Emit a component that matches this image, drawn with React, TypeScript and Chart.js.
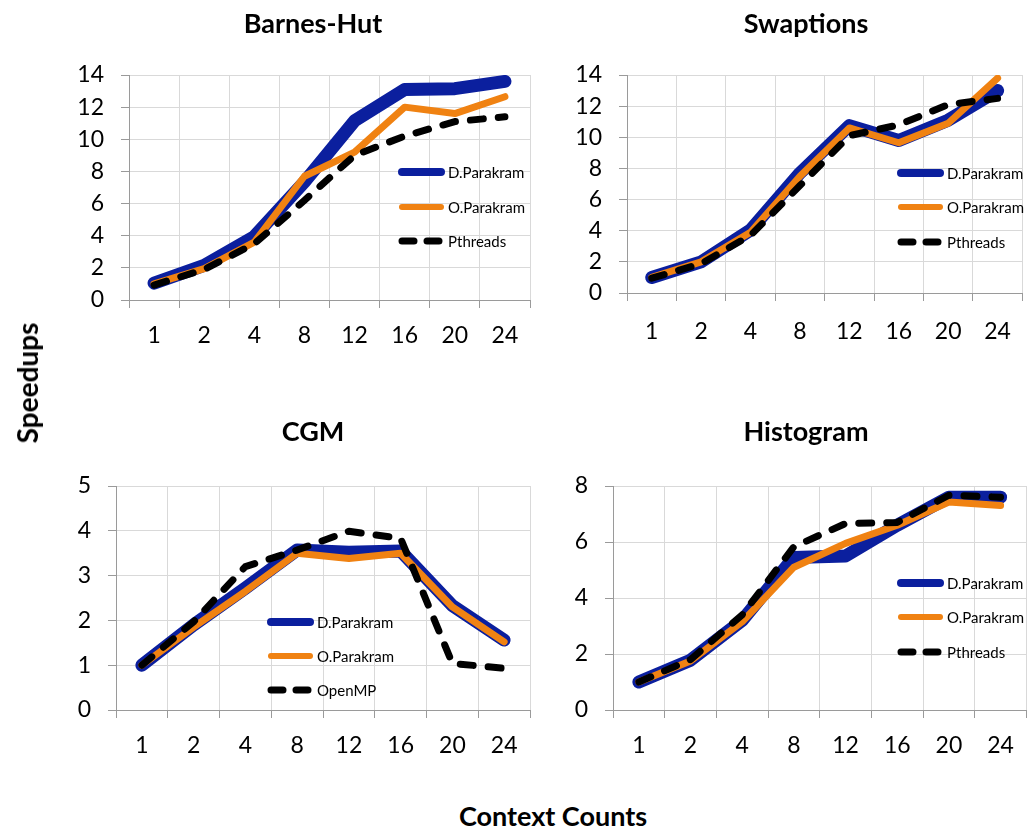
import React, { useEffect, useRef } from "react";
import { Chart, registerables } from "chart.js";

Chart.register(...registerables);

// ---------- data ----------
const categories = ["1", "2", "4", "8", "12", "16", "20", "24"];

const barnesD = [1.05, 2.15, 3.95, 7.35, 11.15, 13.1, 13.15, 13.6];
const barnesO = [1.0, 1.95, 3.6, 7.7, 9.2, 12.0, 11.6, 12.65];
const barnesP = [0.93, 1.9, 3.5, 6.2, 9.0, 10.2, 11.1, 11.4];

const swapD = [1.0, 2.0, 4.05, 7.7, 10.75, 9.8, 11.1, 13.0];
const swapO = [1.0, 2.0, 3.9, 7.5, 10.6, 9.65, 10.9, 13.8];
const swapP = [0.95, 1.88, 3.7, 6.9, 10.1, 10.8, 12.1, 12.5];

const cgmD = [1.0, 1.9, 2.72, 3.57, 3.52, 3.55, 2.33, 1.56];
const cgmO = [1.0, 1.85, 2.65, 3.5, 3.38, 3.5, 2.3, 1.52];
const cgmP = [1.0, 1.97, 3.2, 3.57, 3.99, 3.83, 1.04, 0.93];

const histD = [1.0, 1.78, 3.2, 5.45, 5.5, 6.6, 7.6, 7.6];
const histO = [1.0, 1.75, 3.15, 5.1, 5.95, 6.6, 7.43, 7.3];
const histP = [1.0, 1.8, 3.4, 5.83, 6.66, 6.7, 7.67, 7.6];

const seriesD = "D.Parakram";
const seriesO = "O.Parakram";
const seriesPthreads = "Pthreads";
const seriesOpenMP = "OpenMP";

const titles = ["Barnes-Hut", "Swaptions", "CGM", "Histogram"];
const yAxisTitle = "Speedups";
const xAxisTitle = "Context Counts";

// ---------- styles ----------
const BLUE = "#0b1f9e";
const ORANGE = "#f08212";
const BLACK = "#000000";
const GRID = "#d9d9d9";
const AXIS = "#9a9a9a";
const FONT = "Lato, 'Open Sans', sans-serif";

type PanelProps = {
  left: number;
  top: number;
  width: number;
  height: number;
  yWidth: number;
  xHeight: number;
  padTop: number;
  padRight: number;
  xPad: number;
  yMax: number;
  yStep: number;
  d: number[];
  o: number[];
  p: number[];
  pName: string;
  legendX: number;
  legendYs: number[];
};

function makeLegendPlugin(props: PanelProps) {
  return {
    id: "insideLegend",
    afterDatasetsDraw(chart: any) {
      const ctx = chart.ctx as CanvasRenderingContext2D;
      const x0 = props.legendX - props.left;
      const items = [
        { label: seriesD, color: BLUE, width: 8, dash: [] as number[] },
        { label: seriesO, color: ORANGE, width: 6, dash: [] as number[] },
        { label: props.pName, color: BLACK, width: 7, dash: [12, 13] },
      ];
      ctx.save();
      items.forEach((it, i) => {
        const y = props.legendYs[i] - props.top;
        ctx.beginPath();
        ctx.strokeStyle = it.color;
        ctx.lineWidth = it.width;
        ctx.lineCap = "round";
        ctx.setLineDash(it.dash);
        ctx.moveTo(x0 + 4, y);
        ctx.lineTo(x0 + 43, y);
        ctx.stroke();
        ctx.setLineDash([]);
        ctx.fillStyle = "#000";
        ctx.font = `15px ${FONT}`;
        ctx.textBaseline = "middle";
        ctx.textAlign = "left";
        ctx.fillText(it.label, x0 + 50, y + 1);
      });
      ctx.restore();
    },
  };
}

function Panel(props: PanelProps) {
  const ref = useRef<HTMLCanvasElement | null>(null);
  useEffect(() => {
    if (!ref.current) return;
    const line = (label: string, data: number[], color: string, width: number, dash: number[]) => ({
      label,
      data,
      borderColor: color,
      backgroundColor: color,
      borderWidth: width,
      borderDash: dash,
      borderCapStyle: "round" as const,
      borderJoinStyle: "round" as const,
      pointRadius: 0,
      pointHoverRadius: 0,
      tension: 0,
      fill: false,
    });
    const chart = new Chart(ref.current, {
      type: "line",
      data: {
        labels: categories,
        datasets: [
          line(props.pName, props.p, BLACK, 7, [13, 15]),
          line(seriesO, props.o, ORANGE, 7, []),
          line(seriesD, props.d, BLUE, 13, []),
        ],
      },
      options: {
        responsive: false,
        animation: false,
        events: [],
        layout: { padding: { top: props.padTop, right: props.padRight, left: 0, bottom: 0 } },
        plugins: {
          legend: { display: false },
          tooltip: { enabled: false },
          title: { display: false },
        },
        scales: {
          x: {
            offset: true,
            grid: { offset: true, color: GRID, tickColor: AXIS, tickLength: 8 },
            border: { color: AXIS, width: 1 },
            ticks: {
              font: { family: FONT, size: 23 },
              color: "#000",
              padding: props.xPad,
              maxRotation: 0,
              autoSkip: false,
            },
            afterFit: (s: any) => {
              s.height = props.xHeight;
            },
          },
          y: {
            min: 0,
            max: props.yMax,
            grid: { color: GRID, tickColor: AXIS, tickLength: 8 },
            border: { color: AXIS, width: 1 },
            ticks: {
              stepSize: props.yStep,
              font: { family: FONT, size: 23 },
              color: "#000",
              padding: 17,
            },
            afterFit: (s: any) => {
              s.width = props.yWidth;
            },
          },
        },
      },
      plugins: [makeLegendPlugin(props)],
    } as any);
    return () => chart.destroy();
  }, []);
  return (
    <canvas
      ref={ref}
      width={props.width}
      height={props.height}
      style={{ position: "absolute", left: props.left, top: props.top, width: props.width, height: props.height }}
    />
  );
}

const titleStyle = (cx: number, cy: number, size: number): React.CSSProperties => ({
  position: "absolute",
  left: cx,
  top: cy,
  transform: "translate(-50%, -50%)",
  fontFamily: FONT,
  fontWeight: 700,
  fontSize: size,
  whiteSpace: "nowrap",
  color: "#000",
  lineHeight: 1,
});

export default function App() {
  return (
    <div style={{ position: "fixed", left: 0, top: 0, width: 1028, height: 829, background: "#fff", overflow: "hidden" }}>
      <Panel
        left={20} top={0} width={520} height={360}
        yWidth={109} xHeight={60} padTop={75} padRight={10} xPad={14}
        yMax={14} yStep={2}
        d={barnesD} o={barnesO} p={barnesP} pName={seriesPthreads}
        legendX={398} legendYs={[172, 207, 241]}
      />
      <Panel
        left={540} top={0} width={488} height={360}
        yWidth={87} xHeight={67} padTop={75} padRight={1} xPad={17}
        yMax={14} yStep={2}
        d={swapD} o={swapO} p={swapP} pName={seriesPthreads}
        legendX={897} legendYs={[173, 207, 242]}
      />
      <Panel
        left={20} top={400} width={520} height={380}
        yWidth={96} xHeight={70} padTop={86} padRight={10} xPad={14}
        yMax={5} yStep={1}
        d={cgmD} o={cgmO} p={cgmP} pName={seriesOpenMP}
        legendX={267} legendYs={[622, 656, 690]}
      />
      <Panel
        left={540} top={400} width={488} height={380}
        yWidth={73} xHeight={70} padTop={86} padRight={1} xPad={14}
        yMax={8} yStep={2}
        d={histD} o={histO} p={histP} pName={seriesPthreads}
        legendX={897} legendYs={[583, 617, 652]}
      />
      <div style={titleStyle(313, 22, 27)}>{titles[0]}</div>
      <div style={titleStyle(806, 22, 27)}>{titles[1]}</div>
      <div style={titleStyle(313, 430, 27)}>{titles[2]}</div>
      <div style={titleStyle(806, 430, 27)}>{titles[3]}</div>
      <div style={{ ...titleStyle(27, 383, 28), transform: "translate(-50%, -50%) rotate(-90deg)" }}>{yAxisTitle}</div>
      <div style={titleStyle(553, 815, 27)}>{xAxisTitle}</div>
    </div>
  );
}
